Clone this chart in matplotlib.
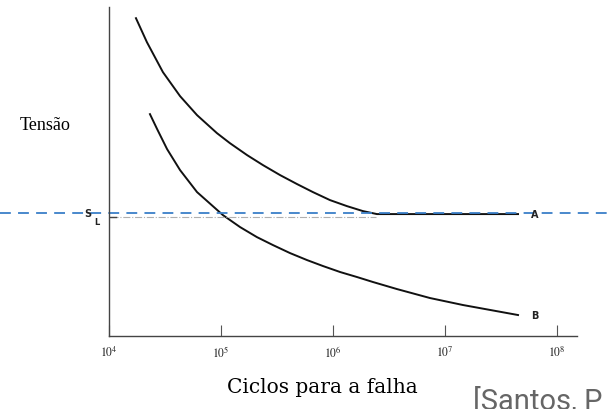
import matplotlib.pyplot as plt
import matplotlib.transforms as mtransforms

# Curva A (com limite de fadiga) - ciclos e tensao (unidades arbitrarias)
ciclos_a = [1.74e4, 2.18e4, 3.03e4, 4.31e4, 6.11e4, 9.20e4, 1.20e5, 1.71e5, 2.37e5,
            3.37e5, 4.78e5, 6.62e5, 9.40e5, 1.33e6, 1.85e6, 2.47e6, 4.49e7]
tensao_a = [318, 294, 264, 240, 221, 203, 193, 181, 171, 161, 152, 144, 136, 130, 125, 122, 122]

# Curva B (sem limite de fadiga)
ciclos_b = [2.32e4, 2.69e4, 3.30e4, 4.31e4, 6.11e4, 1.04e5, 1.48e5, 2.09e5, 2.91e5, 4.13e5,
            5.86e5, 8.15e5, 1.16e6, 1.64e6, 2.28e6, 3.72e6, 7.35e6, 1.45e7, 4.49e7]
tensao_b = [222, 207, 187, 166, 144, 121, 109, 99, 91, 83, 76, 70, 64, 59, 54, 47, 38, 31, 21]

s_l = 122
ticks_x = [1e4, 1e5, 1e6, 1e7, 1e8]
tick_labels = [r'$10^4$', r'$10^5$', r'$10^6$', r'$10^7$', r'$10^8$']

plt.rcParams['mathtext.fontset'] = 'stix'

fig = plt.figure(figsize=(6.07, 4.10), dpi=100)
ax = fig.add_axes([0.1796, 0.178, 0.771, 0.802])

ax.plot(ciclos_a, tensao_a, color='#111111', lw=1.4, solid_joinstyle='round')
ax.plot(ciclos_b, tensao_b, color='#111111', lw=1.4, solid_joinstyle='round')

# linha traco-ponto cinza do limite
ax.plot([1.05e4, 2.4e6], [s_l - 3, s_l - 3], color='#b0b0b0', lw=0.8, linestyle='-.')
ax.plot([1e4, 1.15e4], [s_l - 3, s_l - 3], color='#444444', lw=1)

ax.set_xscale('log')
ax.set_xlim(1e4, 1.51e8)
ax.set_ylim(0, 329)

ax.set_xticks(ticks_x)
ax.set_xticklabels(tick_labels, fontsize=8.5, color='#222222')
ax.minorticks_off()
ax.tick_params(axis='x', direction='in', length=8, width=0.8, color='#555555', pad=6)
ax.set_yticks([])

for lado in ['top', 'right']:
    ax.spines[lado].set_visible(False)
for lado in ['left', 'bottom']:
    ax.spines[lado].set_color('#444444')
    ax.spines[lado].set_linewidth(1)

ax.text(5.9e7, s_l, 'A', fontsize=7, fontweight='bold', va='center', ha='left', color='#222222')
ax.text(5.9e7, tensao_b[-1], 'B', fontsize=7, fontweight='bold', va='center', ha='left', color='#222222')

# linha azul tracejada atravessando a figura toda
trans = mtransforms.blended_transform_factory(fig.transFigure, ax.transData)
ax.plot([0, 1], [s_l + 1, s_l + 1], transform=trans, color='#3a7fc8', lw=1.3,
        dashes=(6, 4), clip_on=False)

fig.text(88 / 607, 1 - 214 / 410, 'S', fontsize=7, fontweight='bold', ha='center', va='center', color='#222222')
fig.text(97 / 607, 1 - 223 / 410, 'L', fontsize=6, fontweight='bold', ha='center', va='center', color='#222222')

fig.text(20 / 607, 1 - 125 / 410, 'Tensão', fontsize=13, family='Liberation Serif', ha='left', va='center')
fig.text(322 / 607, 1 - 388 / 410, 'Ciclos para a falha', fontsize=14.5, family='DejaVu Serif',
         ha='center', va='center')
fig.text(473 / 607, 1 - 410 / 410, '[Santos, P', fontsize=21, family='Roboto',
         ha='left', va='baseline', color='#666666')

fig.savefig('out.png', dpi=100)
